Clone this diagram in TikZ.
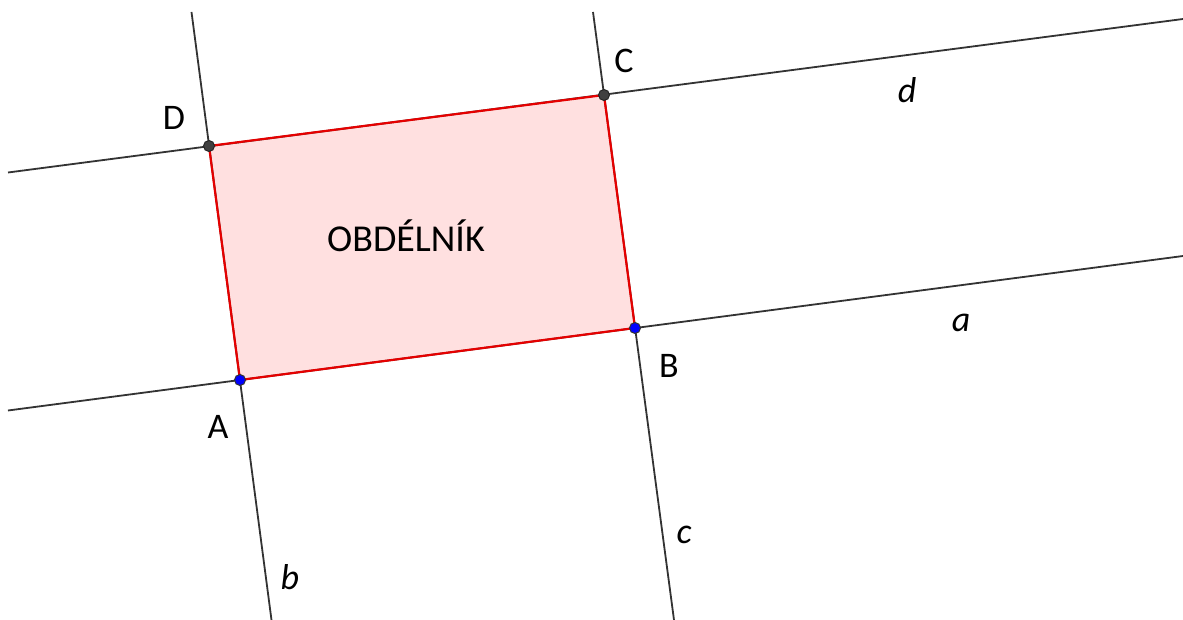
\documentclass[tikz,border=0pt]{standalone}
\usepackage{fontspec}
\setmainfont{Carlito}
\begin{document}
\begin{tikzpicture}[x=1pt,y=-1pt,
  gline/.style={draw=black!80,line width=1.8pt},
  edge/.style={draw=red!90!black,line width=2.2pt},
  bluept/.style={circle,fill=blue,draw=black!80,line width=1pt,inner sep=0pt,minimum size=11pt},
  greypt/.style={circle,fill=black!75,draw=black!85,line width=1pt,inner sep=0pt,minimum size=11pt},
  ptlabel/.style={font=\fontsize{36}{40}\selectfont,inner sep=0pt},
  linelabel/.style={font=\fontsize{36}{40}\selectfont\itshape,inner sep=0pt}]
\useasboundingbox (0,0) rectangle (1183,620);
\coordinate (A) at (240,380);
\coordinate (B) at (635,328);
\coordinate (C) at (604,95);
\coordinate (D) at (209,146);
\coordinate (a1) at (8,410.5);
\coordinate (a2) at (1183,256);
\coordinate (d1) at (8,172.5);
\coordinate (d2) at (1183,19);
\coordinate (b1) at (191.5,12);
\coordinate (b2) at (271.5,620);
\coordinate (c1) at (593,12);
\coordinate (c2) at (674,620);
\fill[red!12] (A) -- (B) -- (C) -- (D) -- cycle;
\draw[gline] (a1) -- (a2);
\draw[gline] (d1) -- (d2);
\draw[gline] (b1) -- (b2);
\draw[gline] (c1) -- (c2);
\draw[edge,line join=round] (A) -- (B) -- (C) -- (D) -- cycle;
\node[bluept] (pA) at (A) {};
\node[bluept] (pB) at (B) {};
\node[greypt] (pC) at (C) {};
\node[greypt] (pD) at (D) {};
\node[ptlabel] (lA) at (218,427) {A};
\node[ptlabel] (lB) at (669,366) {B};
\node[ptlabel] (lC) at (624,61) {C};
\node[ptlabel] (lD) at (174,118) {D};
\node[linelabel] (la) at (961,323) {a};
\node[linelabel] (lb) at (290,577) {b};
\node[linelabel] (lc) at (684,535) {c};
\node[linelabel] (ld) at (907,90) {d};
\node[font=\fontsize{38}{42}\selectfont,inner sep=0pt] (title) at (406,236) {OBDÉLNÍK};
\end{tikzpicture}
\end{document}
